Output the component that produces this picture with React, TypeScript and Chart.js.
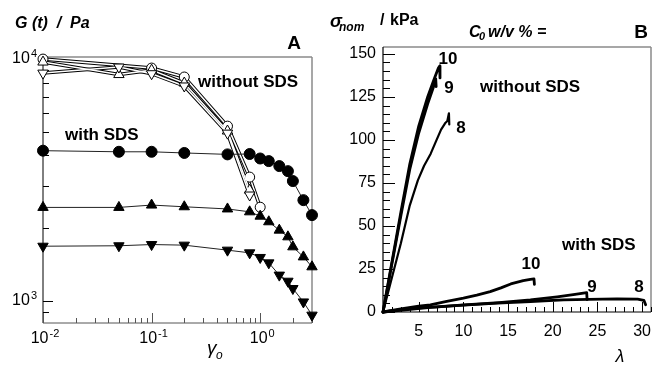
import React, { useEffect, useRef } from "react";
import { Chart, registerables } from "chart.js";

Chart.register(...registerables);

const FF = "'Liberation Sans', Arial, Helvetica, sans-serif";

// ---------- Panel A : G(t) vs strain amplitude ----------
const strainOpenCircle = [0.01, 0.1, 0.2, 0.5, 0.8, 1.0];
const gOpenCircle = [10000, 9180, 8430, 5280, 3250, 2440];
const strainOpenTri = [0.01, 0.05, 0.1, 0.2, 0.5, 0.8];
const gOpenUp = [9720, 8630, 9000, 7960, 5040, 2870];
const gOpenDown = [8750, 9270, 8700, 7740, 4940, 2740];
const strainSDS = [0.01, 0.05, 0.1, 0.2, 0.5, 0.8, 1.0, 1.2, 1.5, 1.8, 2.0, 2.5, 3.0];
const gSdsCircle = [4180, 4136, 4136, 4090, 4035, 4050, 3880, 3785, 3610, 3440, 3130, 2610, 2263];
const gSdsUp = [2435, 2435, 2490, 2450, 2400, 2335, 2240, 2124, 1961, 1840, 1673, 1520, 1383];
const gSdsDown = [1683, 1690, 1710, 1700, 1621, 1580, 1512, 1436, 1278, 1206, 1125, 990, 873];
const aXDecades = [-2, -1, 0];
const aYDecades = [3, 4];

// ---------- Panel B : nominal stress vs stretch ----------
const lam10 = [1, 2, 3, 4, 5, 6, 6.7, 7.2, 7.35, 7.38];
const sig10 = [0, 29, 58, 86, 108, 125, 135, 141.8, 143, 136];
const lam9 = [1, 2, 3, 4, 5, 6, 6.6, 6.9, 6.95];
const sig9 = [0, 28, 56, 83, 104, 121, 130, 135.5, 131];
const lam8 = [1, 2, 3, 4, 4.9, 5.6, 6.34, 7, 7.5, 8.0, 8.2, 8.38, 8.42];
const sig8 = [0, 20, 40, 62, 76.5, 85, 92, 100, 106, 110, 111, 115.5, 109];
const lam10S = [1, 3, 5, 6.3, 8, 10, 11.5, 13, 14.2, 15.3, 16.7, 17.5, 17.9, 17.95];
const sig10S = [0, 1.8, 3.4, 4.2, 6, 8, 9.8, 11.8, 14, 16.3, 18.2, 18.9, 19.2, 16];
const lam9S = [1, 4.5, 7, 10.1, 14, 17.5, 20.5, 22.5, 23.8, 23.85];
const sig9S = [0, 2.2, 3, 4.1, 5.5, 7, 8.8, 10.2, 11.2, 7.2];
const lam8S = [1, 6.3, 10, 13.8, 17.5, 21.2, 24, 27.2, 29.5, 30.2, 30.4];
const sig8S = [0, 2.7, 4, 5.1, 6.1, 7.0, 7.3, 7.6, 7.5, 6.8, 4.2];
const bYTicks = [0, 25, 50, 75, 100, 125, 150];
const bXTicks = [5, 10, 15, 20, 25, 30];

const pts = (xs: number[], ys: number[]) => xs.map((x, i) => ({ x, y: ys[i] }));

function seg(ctx: CanvasRenderingContext2D, x1: number, y1: number, x2: number, y2: number) {
  ctx.beginPath();
  ctx.moveTo(x1, y1);
  ctx.lineTo(x2, y2);
  ctx.stroke();
}
function txt(ctx: CanvasRenderingContext2D, s: string, x: number, y: number, font: string, align: CanvasTextAlign = "left") {
  ctx.font = font;
  ctx.textAlign = align;
  ctx.textBaseline = "middle";
  ctx.fillStyle = "#000";
  ctx.fillText(s, x, y);
}
function pow10(ctx: CanvasRenderingContext2D, exp: string, x: number, y: number, align: "right" | "center") {
  const base = `16px ${FF}`;
  const sup = `11px ${FF}`;
  ctx.font = base;
  const wb = ctx.measureText("10").width;
  ctx.font = sup;
  const ws = ctx.measureText(exp).width;
  const tot = wb + ws + 1;
  const x0 = align === "right" ? x - tot : x - tot / 2;
  txt(ctx, "10", x0, y, base);
  txt(ctx, exp, x0 + wb + 1, y - 5, sup);
}

const pluginA = {
  id: "frameA",
  beforeDatasetsDraw(chart: any) {
    const { ctx, chartArea } = chart;
    const { left, right, top, bottom } = chartArea;
    const xs = chart.scales.x;
    const ys = chart.scales.y;
    ctx.save();
    ctx.strokeStyle = "#8a8a8a";
    ctx.lineWidth = 1.5;
    seg(ctx, left, top, right, top);
    seg(ctx, right, top, right, bottom);
    ctx.strokeStyle = "#000";
    ctx.lineWidth = 1;
    seg(ctx, left, top, left, bottom);
    ctx.strokeStyle = "#555";
    seg(ctx, left, bottom, right, bottom);
    ctx.strokeStyle = "#000";
    for (let e = 2; e <= 4; e++) {
      for (let m = 1; m <= 9; m++) {
        const v = m * Math.pow(10, e);
        if (v < ys.min || v > ys.max) continue;
        const py = Math.round(ys.getPixelForValue(v)) + 0.5;
        seg(ctx, left, py, left + (m === 1 ? 10 : 6), py);
      }
    }
    ctx.strokeStyle = "#555";
    for (let e = -2; e <= 0; e++) {
      for (let m = 1; m <= 9; m++) {
        const v = m * Math.pow(10, e);
        if (v < xs.min * 0.999 || v > xs.max) continue;
        const px = Math.round(xs.getPixelForValue(v)) + 0.5;
        seg(ctx, px, bottom, px, bottom - (m === 1 ? 10 : 5));
      }
    }
    ctx.restore();
  },
  afterDraw(chart: any) {
    const { ctx } = chart;
    const xs = chart.scales.x;
    const ys = chart.scales.y;
    ctx.save();
    aYDecades.forEach((e) => pow10(ctx, String(e), 37, ys.getPixelForValue(Math.pow(10, e)), "right"));
    aXDecades.forEach((e) => pow10(ctx, String(e), xs.getPixelForValue(Math.pow(10, e)) + 2, 339, "center"));
    txt(ctx, "G (t)  /  Pa", 15, 24, `italic bold 16px ${FF}`);
    txt(ctx, "A", 294, 44, `bold 19px ${FF}`, "center");
    txt(ctx, "without SDS", 198, 82, `bold 17px ${FF}`);
    txt(ctx, "with SDS", 65, 135, `bold 17px ${FF}`);
    txt(ctx, "γ", 207, 349, `italic 19px ${FF}`);
    txt(ctx, "o", 216, 356, `italic 12px ${FF}`);
    ctx.restore();
  },
};

const pluginB = {
  id: "frameB",
  beforeDatasetsDraw(chart: any) {
    const { ctx, chartArea } = chart;
    const { left, right, top, bottom } = chartArea;
    const xs = chart.scales.x;
    const ys = chart.scales.y;
    ctx.save();
    ctx.strokeStyle = "#8a8a8a";
    ctx.lineWidth = 1.5;
    seg(ctx, left, top, right, top);
    seg(ctx, right, top, right, bottom);
    ctx.strokeStyle = "#000";
    ctx.lineWidth = 1.2;
    seg(ctx, left, top, left, bottom);
    seg(ctx, left, bottom, right, bottom);
    ctx.lineWidth = 1;
    for (let v = 0; v <= ys.max; v += 5) {
      const py = Math.round(ys.getPixelForValue(v)) + 0.5;
      seg(ctx, left, py, left + (v % 25 === 0 ? 12 : 7), py);
    }
    for (let v = 2; v <= xs.max; v += 1) {
      const px = Math.round(xs.getPixelForValue(v)) + 0.5;
      seg(ctx, px, bottom, px, bottom - (v % 5 === 0 ? 10 : 5));
    }
    ctx.restore();
  },
  afterDraw(chart: any) {
    const { ctx } = chart;
    const xs = chart.scales.x;
    const ys = chart.scales.y;
    ctx.save();
    bYTicks.forEach((v) => txt(ctx, String(v), 376, ys.getPixelForValue(v), `16px ${FF}`, "right"));
    bXTicks.forEach((v) => txt(ctx, String(v), xs.getPixelForValue(v), 332, `16px ${FF}`, "center"));
    txt(ctx, "σ", 330, 22, `italic bold 18px ${FF}`);
    txt(ctx, "nom", 339, 28, `italic bold 12px ${FF}`);
    txt(ctx, "/", 380, 21, `bold 16px ${FF}`);
    txt(ctx, "kPa", 390, 21, `bold 16px ${FF}`);
    txt(ctx, "C", 469, 33, `italic bold 16px ${FF}`);
    txt(ctx, "0", 479, 37, `italic bold 11px ${FF}`);
    txt(ctx, "w/v % =", 488, 33, `italic bold 16px ${FF}`);
    txt(ctx, "B", 641, 33, `bold 19px ${FF}`, "center");
    txt(ctx, "without SDS", 480, 87, `bold 17px ${FF}`);
    txt(ctx, "with SDS", 562, 245, `bold 17px ${FF}`);
    const nf = `bold 17px ${FF}`;
    txt(ctx, "10", 448, 59, nf, "center");
    txt(ctx, "9", 449, 88, nf, "center");
    txt(ctx, "8", 461, 128, nf, "center");
    txt(ctx, "10", 531, 264, nf, "center");
    txt(ctx, "9", 592, 287, nf, "center");
    txt(ctx, "8", 639, 287, nf, "center");
    txt(ctx, "λ", 620, 357, `italic 18px ${FF}`, "center");
    ctx.restore();
  },
};

function hollowSeries(data: any[], style: string, rot: number, radius: number, order: number) {
  return [
    { data, borderColor: "#000", borderWidth: 3.5, pointRadius: 0, order: order + 20, clip: false as any, fill: false },
    {
      data,
      borderColor: "#fff",
      borderWidth: 1.5,
      pointStyle: style,
      pointRotation: rot,
      pointRadius: radius,
      pointBackgroundColor: "#fff",
      pointBorderColor: "#000",
      pointBorderWidth: 1,
      order: order + 10,
      clip: false as any,
      fill: false,
    },
  ];
}
function filledSeries(data: any[], style: string, rot: number, radius: number) {
  return {
    data,
    borderColor: "#222",
    borderWidth: 1,
    pointStyle: style,
    pointRotation: rot,
    pointRadius: radius,
    pointBackgroundColor: "#000",
    pointBorderColor: "#000",
    pointBorderWidth: 1,
    order: 1,
    clip: false as any,
    fill: false,
  };
}

function curve(xs: number[], ys: number[], w: number) {
  return {
    data: pts(xs, ys),
    borderColor: "#000",
    borderWidth: w,
    pointRadius: 0,
    borderJoinStyle: "round",
    borderCapStyle: "round",
    clip: false as any,
    fill: false,
  };
}

export default function App() {
  const refA = useRef<HTMLCanvasElement>(null);
  const refB = useRef<HTMLCanvasElement>(null);

  useEffect(() => {
    const chartA = new Chart(refA.current as HTMLCanvasElement, {
      type: "line",
      data: {
        datasets: [
          ...hollowSeries(pts(strainOpenCircle, gOpenCircle), "circle", 0, 5, 3),
          ...hollowSeries(pts(strainOpenTri, gOpenUp), "triangle", 0, 6, 2),
          ...hollowSeries(pts(strainOpenTri, gOpenDown), "triangle", 180, 6, 1),
          filledSeries(pts(strainSDS, gSdsCircle), "circle", 0, 5.5),
          filledSeries(pts(strainSDS, gSdsUp), "triangle", 0, 6),
          filledSeries(pts(strainSDS, gSdsDown), "triangle", 180, 6),
        ] as any,
      },
      options: {
        animation: false,
        responsive: false,
        maintainAspectRatio: false,
        devicePixelRatio: 1,
        layout: { padding: { left: 43, right: 653 - 312, top: 57, bottom: 368 - 323 } },
        scales: {
          x: { type: "logarithmic", min: 0.01, max: 3, display: false },
          y: { type: "logarithmic", min: 810, max: 10200, display: false },
        },
        elements: { line: { tension: 0 } },
        plugins: { legend: { display: false }, tooltip: { enabled: false } },
      } as any,
      plugins: [pluginA],
    });

    const chartB = new Chart(refB.current as HTMLCanvasElement, {
      type: "line",
      data: {
        datasets: [
          curve(lam10, sig10, 2.8),
          curve(lam9, sig9, 2.8),
          curve(lam8, sig8, 2.2),
          curve(lam10S, sig10S, 2.8),
          curve(lam9S, sig9S, 2.8),
          curve(lam8S, sig8S, 2.8),
        ] as any,
      },
      options: {
        animation: false,
        responsive: false,
        maintainAspectRatio: false,
        devicePixelRatio: 1,
        layout: { padding: { left: 383, right: 2, top: 47, bottom: 56 } },
        scales: {
          x: { type: "linear", min: 1, max: 31, display: false },
          y: { type: "linear", min: 0, max: 154, display: false },
        },
        elements: { line: { tension: 0 } },
        plugins: { legend: { display: false }, tooltip: { enabled: false } },
      } as any,
      plugins: [pluginB],
    });

    return () => {
      chartA.destroy();
      chartB.destroy();
    };
  }, []);

  const cs: React.CSSProperties = { position: "absolute", left: 0, top: 0, width: "653px", height: "368px" };
  return (
    <div style={{ position: "absolute", left: 0, top: 0, width: 653, height: 368, background: "#fff" }}>
      <canvas ref={refA} width={653} height={368} style={cs} />
      <canvas ref={refB} width={653} height={368} style={cs} />
    </div>
  );
}
